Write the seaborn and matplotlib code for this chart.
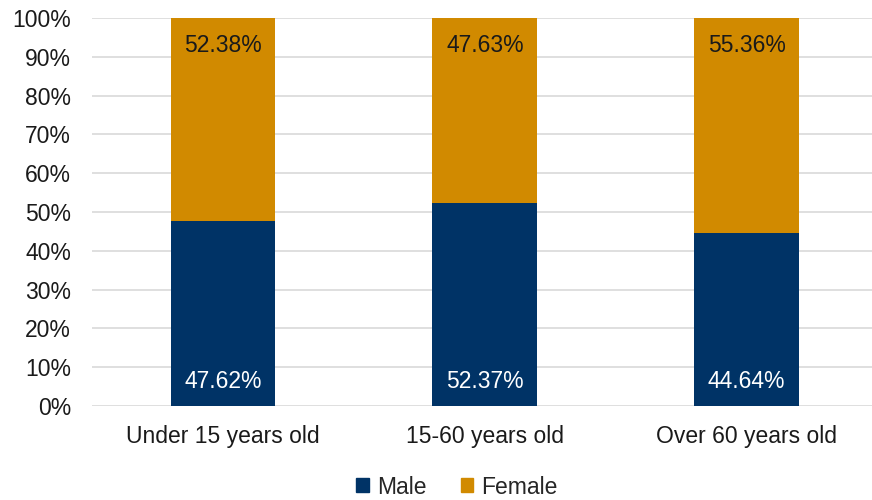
import pandas as pd
import matplotlib.pyplot as plt
import seaborn as sns
from matplotlib.patches import Patch
from matplotlib.ticker import PercentFormatter

categories = ["Under 15 years old", "15-60 years old", "Over 60 years old"]
male = [47.62, 52.37, 44.64]
female = [52.38, 47.63, 55.36]

male_color = "#003366"
female_color = "#D18A00"


def main():
    sns.set_theme(style="white")
    plt.rcParams['font.family'] = ['Liberation Sans', 'DejaVu Sans']

    data = pd.DataFrame({"group": categories, "male": male, "female": female})
    data["total"] = data["male"] + data["female"]

    fig = plt.figure(figsize=(8.72, 5.0), dpi=100)
    ax = fig.add_axes([0.1055, 0.188, 0.901, 0.776])

    # stacked bars: total first (female on top), then male over it
    sns.barplot(data=data, x="group", y="total", color=female_color, width=0.4,
                saturation=1, linewidth=0, ax=ax, zorder=2)
    sns.barplot(data=data, x="group", y="male", color=male_color, width=0.4,
                saturation=1, linewidth=0, ax=ax, zorder=3)

    for i, row in data.iterrows():
        ax.text(i, 6.2, f"{row['male']:.2f}%", ha="center", va="center",
                color="white", fontsize=16.5, zorder=4)
        ax.text(i, row["total"] - 7, f"{row['female']:.2f}%", ha="center", va="center",
                color="#1a1a1a", fontsize=16.5, zorder=4)

    ax.set_ylim(0, 100)
    ax.set_xlim(-0.5, 2.5)
    ax.set_yticks(range(0, 101, 10))
    ax.yaxis.set_major_formatter(PercentFormatter(decimals=0))
    ax.grid(axis="y", color="#D9D9D9", linewidth=1.2, zorder=0)
    ax.set_axisbelow(True)
    for s in ax.spines.values():
        s.set_visible(False)
    ax.tick_params(axis="both", labelsize=16.5, colors="#1a1a1a", length=0)
    ax.tick_params(axis="y", pad=15)
    ax.tick_params(axis="x", pad=14)
    ax.set_xlabel("")
    ax.set_ylabel("")

    handles = [Patch(color=male_color, label="Male"), Patch(color=female_color, label="Female")]
    fig.legend(handles=handles, loc="center", bbox_to_anchor=(0.524, 0.026), ncol=2,
               frameon=False, fontsize=16.5, handlelength=0.55, handleheight=0.55,
               handletextpad=0.35, columnspacing=1.5)

    fig.savefig("out.png", dpi=100)


if __name__ == "__main__":
    main()
